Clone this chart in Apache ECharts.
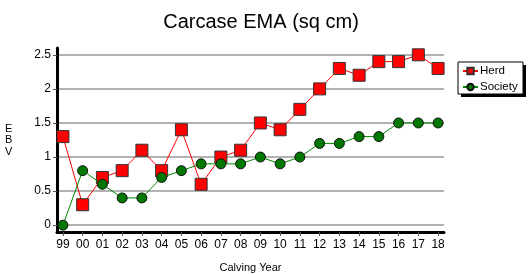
<!DOCTYPE html>
<html><head><meta charset="utf-8">
<script src="https://cdn.jsdelivr.net/npm/echarts@6/dist/echarts.min.js"></script>
<style>html,body{margin:0;padding:0;background:#fff}#c{width:528px;height:274px}</style>
</head><body><div id="c"></div>
<script>
var years = ['99','00','01','02','03','04','05','06','07','08','09','10','11','12','13','14','15','16','17','18'];
var herd = [1.3,0.3,0.7,0.8,1.1,0.8,1.4,0.6,1.0,1.1,1.5,1.4,1.7,2.0,2.3,2.2,2.4,2.4,2.5,2.3];
var society = [0,0.8,0.6,0.4,0.4,0.7,0.8,0.9,0.9,0.9,1.0,0.9,1.0,1.2,1.2,1.3,1.3,1.5,1.5,1.5];
var yTicks = [0,0.5,1,1.5,2,2.5];

var idx = years.map(function(_, i){ return i; });
var font = 'Liberation Sans';
var chart = echarts.init(document.getElementById('c'));
chart.setOption({
  animation: false,
  textStyle: {fontFamily: font},
  title: {text: 'Carcase EMA (sq cm)', left: 256, top: 7, textAlign: 'center',
    textStyle: {fontFamily: font, fontSize: 20, fontWeight: 'normal', color: '#000'}},
  graphic: [
    {type: 'text', left: 5, top: 123, style: {text: 'E\nB\nV', font: '11px Liberation Sans', fill: '#000', lineHeight: 11.5, align: 'center'}},
    {type: 'rect', shape: {x: 461, y: 65, width: 65, height: 32}, style: {fill: '#000'}},
    {type: 'rect', shape: {x: 458, y: 62, width: 65, height: 32}, style: {fill: '#fff', stroke: '#000', lineWidth: 1}}
  ],
  legend: {left: 462, top: 65, orient: 'vertical', itemGap: 4, itemWidth: 15, itemHeight: 8, padding: 0,
    textStyle: {fontFamily: font, fontSize: 11.5, color: '#000', lineHeight: 12, padding: [0,0,0,-3]},
    data: ['Herd','Society']},
  grid: {left: 57, right: 84, top: 48, bottom: 42, outerBoundsMode: 'none', containLabel: false},
  xAxis: {type: 'value', min: -0.3, max: 19.3, name: 'Calving Year', nameLocation: 'middle', nameGap: 30,
    nameTextStyle: {fontFamily: font, fontSize: 11, color: '#000'},
    axisLine: {onZero: false, lineStyle: {color: '#000', width: 3}},
    axisTick: {customValues: idx, length: 4, lineStyle: {color: '#555'}},
    axisLabel: {customValues: idx, formatter: function(v){ return years[Math.round(v)]; },
      fontFamily: font, fontSize: 12, color: '#000', margin: 7},
    splitLine: {show: false}},
  yAxis: {type: 'value', min: -0.1, max: 2.6,
    axisLine: {show: true, onZero: false, lineStyle: {color: '#000', width: 3}},
    axisTick: {show: true, customValues: yTicks, length: 4, lineStyle: {color: '#555'}},
    axisLabel: {customValues: yTicks, fontFamily: font, fontSize: 12, color: '#000', margin: 6},
    splitLine: {show: true, lineStyle: {color: '#999', width: 1.5}}},
  series: [
    {name: 'Herd', type: 'line', data: herd.map(function(v,i){ return [i, v]; }),
      symbol: 'rect', symbolSize: 12, lineStyle: {color: '#f00', width: 1},
      itemStyle: {color: '#f00', borderColor: '#333', borderWidth: 1}, z: 3},
    {name: 'Society', type: 'line', data: society.map(function(v,i){ return [i, v]; }),
      symbol: 'circle', symbolSize: 10, lineStyle: {color: '#080', width: 1},
      itemStyle: {color: '#070', borderColor: '#111', borderWidth: 1}, z: 4}
  ]
});
</script></body></html>
